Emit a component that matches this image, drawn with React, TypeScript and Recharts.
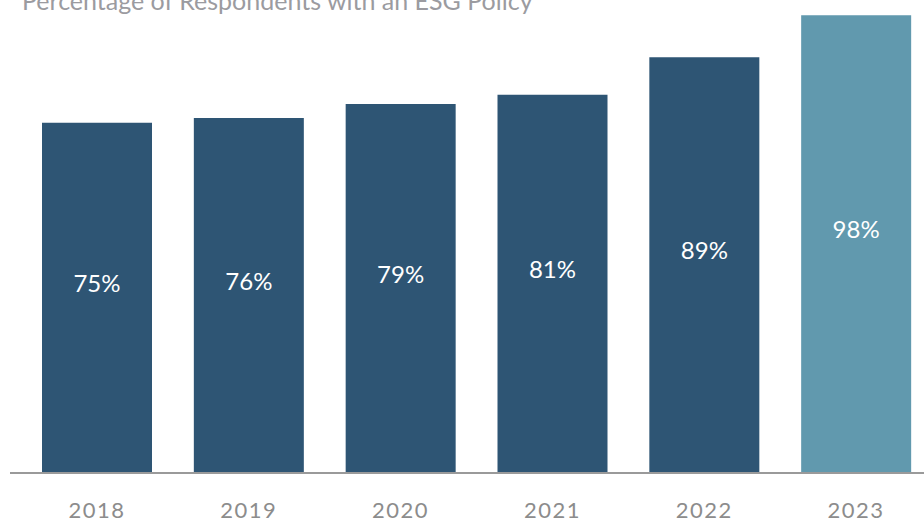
import React from 'react';
import { BarChart, Bar, XAxis, YAxis, Cell, LabelList } from 'recharts';

const years = ['2018', '2019', '2020', '2021', '2022', '2023'];
const esgPolicy = [75, 76, 79, 81, 89, 98];
const title = 'Percentage of Respondents with an ESG Policy';

const data = years.map((year, i) => ({ year, value: esgPolicy[i] }));

const DARK = '#2e5574';
const LIGHT = '#6199ae';
const FONT = 'Lato, "Open Sans", sans-serif';

const YearTick = (props: any) => {
  const { x, y, payload } = props;
  return (
    <text
      x={x}
      y={y + 37}
      textAnchor="middle"
      fill="#8c8c8c"
      fontSize={22}
      fontFamily={FONT}
      letterSpacing={1.5}
    >
      {payload.value}
    </text>
  );
};

const ValueLabel = (props: any) => {
  const { x, y, width, height, value } = props;
  return (
    <text
      x={x + width / 2}
      y={y + height / 2 - 6}
      textAnchor="middle"
      fill="#ffffff"
      fontSize={24}
      fontFamily={FONT}
    >
      {value}%
    </text>
  );
};

const App: React.FC = () => {
  return (
    <div style={{ position: 'absolute', left: 0, top: 0, width: 924, height: 523, overflow: 'hidden', background: '#fff' }}>
      <svg width={924} height={30} style={{ position: 'absolute', left: 0, top: 0 }}>
        <text x={22} y={10} fill="#9b9ba0" fontSize={25} fontFamily={FONT}>
          {title}
        </text>
      </svg>
      <BarChart
        width={932}
        height={523}
        data={data}
        margin={{ top: 6, right: 0, bottom: 0, left: 10 }}
        barSize={110}
      >
        <XAxis
          dataKey="year"
          height={50}
          padding={{ left: 11, right: 0 }}
          axisLine={{ stroke: '#9a9a9a', strokeWidth: 2 }}
          tickLine={false}
          tick={<YearTick />}
          interval={0}
        />
        <YAxis hide domain={[0, 100]} />
        <Bar dataKey="value" isAnimationActive={false}>
          {data.map((d, i) => (
            <Cell key={d.year} fill={i === data.length - 1 ? LIGHT : DARK} />
          ))}
          <LabelList dataKey="value" content={<ValueLabel />} />
        </Bar>
      </BarChart>
    </div>
  );
};

export default App;
